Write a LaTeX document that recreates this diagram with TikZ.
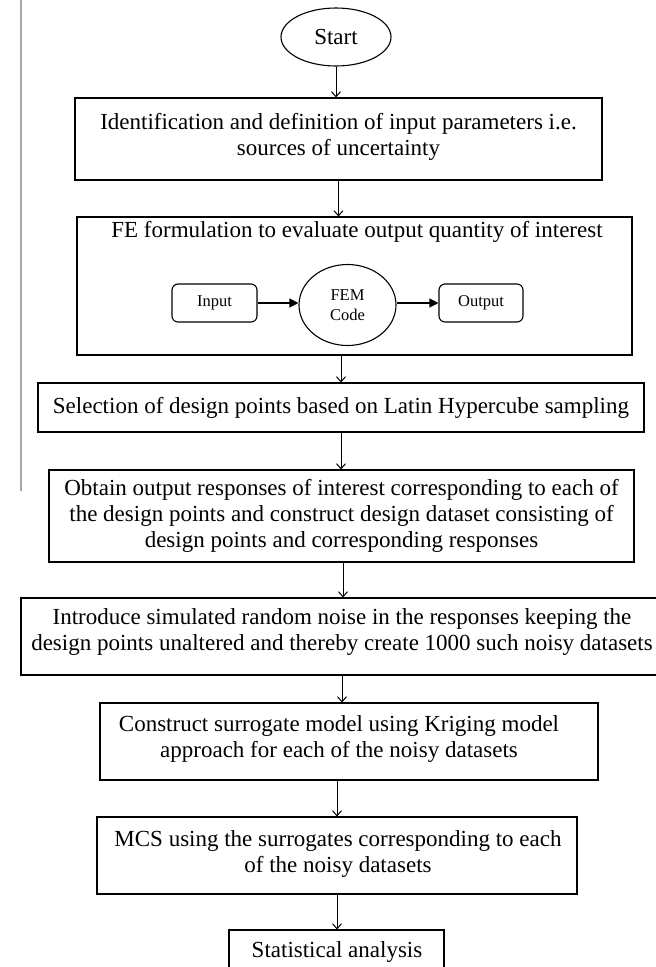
\documentclass[tikz,border=0pt]{standalone}
\usepackage{fontspec}
\setmainfont{Liberation Serif}
\usetikzlibrary{arrows.meta,shapes.geometric}
\begin{document}
\begin{tikzpicture}[x=1pt,y=-1pt,
  box/.style={draw,line width=1.1pt,rectangle,inner sep=0pt},
  rbox/.style={draw,line width=1.1pt,rectangle,rounded corners=6pt,inner sep=0pt,
    minimum width=85pt,minimum height=38pt,font=\fontsize{16.5}{20}\selectfont},
  txt/.style={inner sep=0pt,align=center,font=\fontsize{23}{26}\selectfont},
  arr/.style={line width=1pt,-{Straight Barb[length=5pt,width=9pt,line width=1pt]}},
  farr/.style={line width=1.1pt,-{Triangle[length=9pt,width=9pt]}}]
\useasboundingbox (0,0) rectangle (656,967);
\fill[white] (0,0) rectangle (656,967);
% left rule
\coordinate (ltop) at (21,0);
\coordinate (lbot) at (21,491);
\draw[line width=2pt,gray!70] (ltop) -- (lbot);
% start
\node[draw,line width=1.1pt,ellipse,minimum width=110pt,minimum height=58pt,inner sep=0pt,
  font=\fontsize{23}{26}\selectfont] (start) at (336,37) {Start};
% box 1
\node[box,minimum width=527pt,minimum height=82pt] (b1) at (338.5,139) {};
\node[txt] (t1) at (338.5,137) {Identification and definition of input parameters i.e.\\sources of uncertainty};
% box 2
\node[box,minimum width=555pt,minimum height=138pt] (b2) at (354.5,286) {};
\node[txt] (t2) at (357,232) {FE formulation to evaluate output quantity of interest};
\node[rbox] (in) at (214.5,303) {Input};
\node[draw,line width=1.1pt,ellipse,minimum width=97pt,minimum height=81pt,inner sep=0pt,
  align=center,font=\fontsize{16.5}{20}\selectfont] (fem) at (347.5,305) {FEM\\Code};
\node[rbox,minimum width=84pt] (out) at (481,303) {Output};
% box 3
\node[box,minimum width=606pt,minimum height=49pt] (b3) at (341,407.5) {};
\node[txt] (t3) at (341,407.5) {Selection of design points based on Latin Hypercube sampling};
% box 4
\node[box,minimum width=585pt,minimum height=92pt] (b4) at (341.5,516) {};
\node[txt] (t4) at (341.5,516) {Obtain output responses of interest corresponding to each of\\the design points and construct design dataset consisting of\\design points and corresponding responses};
% box 5
\node[box,minimum width=659pt,minimum height=77pt] (b5) at (350.5,636.5) {};
\node[txt] (t5) at (342,632) {Introduce simulated random noise in the responses keeping the\\design points unaltered and thereby create 1000 such noisy datasets};
% box 6
\node[box,minimum width=498pt,minimum height=77pt] (b6) at (349,741.5) {};
\node[txt] (t6) at (339,739) {Construct surrogate model using Kriging model\\approach for each of the noisy datasets};
% box 7
\node[box,minimum width=480pt,minimum height=77pt] (b7) at (337,855.5) {};
\node[txt] (t7) at (338,854) {MCS using the surrogates corresponding to each\\of the noisy datasets};
% box 8
\node[box,minimum width=215pt,minimum height=56pt] (b8) at (336.5,958) {};
\node[txt] (t8) at (337,952) {Statistical analysis};
% connectors
\draw[arr] (start.south) -- (start.south |- b1.north);
\draw[arr] (b1.south) -- (b1.south |- b2.north);
\draw[farr] (in.east) -- (in.east -| fem.west);
\draw[farr] (fem.east |- out.west) -- (out.west);
\draw[arr] (b3.north |- b2.south) -- (b3.north);
\draw[arr] (b3.south) -- (b3.south |- b4.north);
\draw[arr] ([xshift=1.5pt]b4.south) -- ([xshift=1.5pt]b4.south |- b5.north);
\draw[arr] (t5.south |- b5.south) -- (t5.south |- b6.north);
\draw[arr] (b7.north |- b6.south) -- (b7.north);
\draw[arr] (b7.south) -- (b7.south |- b8.north);
\end{tikzpicture}
\end{document}
